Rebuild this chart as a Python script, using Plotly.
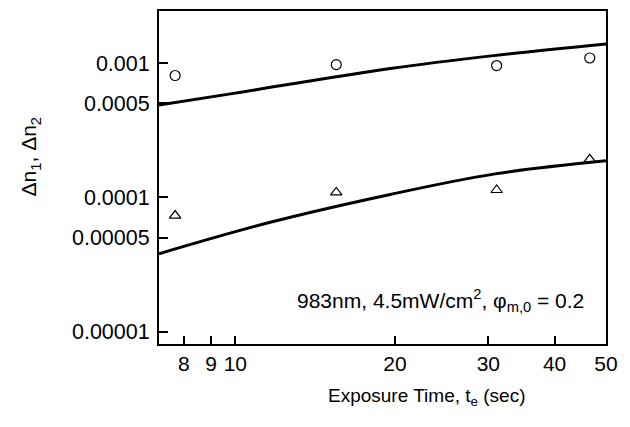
import plotly.graph_objects as go

# measured data (exposure time in sec)
t_meas = [7.7, 15.5, 31.1, 46.6]
dn1_meas = [8.07e-4, 9.73e-4, 9.57e-4, 1.09e-3]
dn2_meas = [7.32e-5, 1.09e-4, 1.135e-4, 1.92e-4]

# model curves
t_fit1 = [7.18, 10, 19.6, 30.7, 50]
dn1_fit = [4.86e-4, 5.97e-4, 9.10e-4, 1.135e-3, 1.384e-3]
t_fit2 = [7.18, 11.64, 19.6, 30.7, 50]
dn2_fit = [3.81e-5, 6.53e-5, 1.052e-4, 1.49e-4, 1.87e-4]

x_ticks = [8, 9, 10, 20, 30, 40, 50]
y_ticks = [1e-5, 5e-5, 1e-4, 5e-4, 1e-3]
y_tick_text = ["0.00001", "0.00005", "0.0001", "0.0005", "0.001"]

FONT = "Liberation Sans"

fig = go.Figure()
fig.add_trace(go.Scatter(x=t_fit1, y=dn1_fit, mode="lines", line=dict(color="black", width=3, shape="spline"), showlegend=False))
fig.add_trace(go.Scatter(x=t_fit2, y=dn2_fit, mode="lines", line=dict(color="black", width=3, shape="spline"), showlegend=False))
fig.add_trace(go.Scatter(x=t_meas, y=dn1_meas, mode="markers",
                         marker=dict(symbol="circle-open", size=10, color="black", line=dict(width=1.2)), showlegend=False))
fig.add_trace(go.Scatter(x=t_meas, y=dn2_meas, mode="markers",
                         marker=dict(symbol="triangle-up-open", size=10, color="black", line=dict(width=1.2)), showlegend=False))

fig.update_layout(
    width=630, height=427,
    margin=dict(l=159, r=24, t=9, b=83),
    paper_bgcolor="white", plot_bgcolor="white",
    font=dict(family=FONT, color="black", size=20),
    xaxis=dict(type="log", range=[0.8561, 1.699], tickvals=x_ticks, ticktext=[str(v) for v in x_ticks],
               ticks="inside", ticklen=8, tickwidth=1.5, tickcolor="black",
               showline=True, linecolor="black", linewidth=2, mirror=True,
               showgrid=False, zeroline=False, tickfont=dict(family=FONT, size=21)),
    yaxis=dict(type="log", range=[-5.091, -2.613], tickvals=y_ticks, ticktext=y_tick_text,
               ticks="inside", ticklen=9, tickwidth=1.5, tickcolor="black",
               showline=True, linecolor="black", linewidth=2, mirror=True,
               showgrid=False, zeroline=False, tickfont=dict(family=FONT, size=21.5), ticklabelstandoff=3),
)

fig.add_annotation(xref="paper", yref="paper", x=(426 - 158.7) / 447, y=(427 - 397 - 83) / 335,
                   text="Exposure Time, t<sub>e</sub> (sec)", showarrow=False,
                   font=dict(family=FONT, size=19), xanchor="center", yanchor="middle")
fig.add_annotation(xref="paper", yref="paper", x=(30 - 158.7) / 447, y=(344 - 156) / 335,
                   text="Δn<sub>1</sub>, Δn<sub>2</sub>", showarrow=False, textangle=-90,
                   font=dict(family=FONT, size=21), xanchor="center", yanchor="middle")
fig.add_annotation(xref="paper", yref="paper", x=(586 - 158.7) / 447, y=(344 - 300) / 335,
                   text="983nm, 4.5mW/cm<sup>2</sup>, φ<sub>m,0</sub> = 0.2", showarrow=False,
                   font=dict(family=FONT, size=21), xanchor="right", yanchor="middle")

fig.write_html("out.html")
